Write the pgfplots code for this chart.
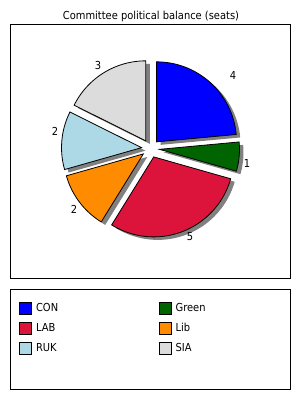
\documentclass[border=0pt]{standalone}
\usepackage{pgfplots}
\pgfplotsset{compat=1.18}
\usepackage{pgfplotstable}
\usepackage{fontspec}
\setmainfont{DejaVu Sans Condensed}
\definecolor{cCON}{HTML}{0000FF}
\definecolor{cGreen}{HTML}{006400}
\definecolor{cLAB}{HTML}{DC143C}
\definecolor{cLib}{HTML}{FF8C00}
\definecolor{cRUK}{HTML}{ADD8E6}
\definecolor{cSIA}{HTML}{DCDCDC}
\definecolor{shadowgray}{HTML}{808080}
\tikzset{lbl/.style={font=\fontsize{8.25}{10}\selectfont}}
\pgfplotstableread{
party seats lx ly
CON 4 233 325
Green 1 247 237
LAB 5 190 163
Lib 2 74 191
RUK 2 55 269
SIA 3 98 335
}\seattable
\def\cx{150.5}
\def\cy{251.5}
\def\rr{80}
\def\ex{9}
\begin{document}
\begin{tikzpicture}
\begin{axis}[
  width=225pt, height=300pt, scale only axis,
  xmin=0, xmax=300, ymin=0, ymax=400,
  axis lines=none, clip=false,
  legend columns=2,
  legend cell align=left,
  legend style={draw=none, fill=none, at={(axis cs:19,98.5)}, anchor=north west,
    inner sep=0pt, font=\fontsize{8.25}{10}\selectfont, row sep=5.5pt,
    /tikz/column 1/.style={column sep=2pt},
    /tikz/column 3/.style={column sep=2pt},
    /tikz/column 2/.style={column sep=74.5pt},
    nodes={inner sep=1pt, anchor=west}},
  legend image code/.code={\draw[#1, draw=black, line width=0.6pt] (0pt,-4.5pt) rectangle (9pt,4.5pt);},
]
\path (axis cs:0,0) rectangle (axis cs:300,400);
\def\total{0}
\pgfplotsforeachungrouped \i in {0,...,5}{%
  \pgfplotstablegetelem{\i}{seats}\of\seattable
  \pgfmathsetmacro\total{\total+\pgfplotsretval}%
}
% shadows
\def\cum{0}
\pgfplotsforeachungrouped \i in {0,...,5}{%
  \pgfplotstablegetelem{\i}{seats}\of\seattable \let\myv\pgfplotsretval
  \pgfmathsetmacro\aS{90-360*\cum/\total}%
  \pgfmathsetmacro\aE{90-360*(\cum+\myv)/\total}%
  \pgfmathsetmacro\aM{(\aS+\aE)/2}%
  \pgfmathsetmacro\ox{\cx+\ex*cos(\aM)+4}%
  \pgfmathsetmacro\oy{\cy+\ex*sin(\aM)-3}%
  \edef\doit{\noexpand\addplot[forget plot, fill=shadowgray, draw=none, domain=\aE:\aS, samples=60] ({\ox+\rr*cos(x)}, {\oy+\rr*sin(x)}) -- (axis cs:\ox,\oy) -- cycle;}%
  \doit
  \pgfmathsetmacro\cum{\cum+\myv}%
}
% slices
\def\cum{0}
\pgfplotsforeachungrouped \i in {0,...,5}{%
  \pgfplotstablegetelem{\i}{seats}\of\seattable \let\myv\pgfplotsretval
  \pgfplotstablegetelem{\i}{party}\of\seattable \let\myp\pgfplotsretval
  \pgfplotstablegetelem{\i}{lx}\of\seattable \let\mylx\pgfplotsretval
  \pgfplotstablegetelem{\i}{ly}\of\seattable \let\myly\pgfplotsretval
  \pgfmathsetmacro\aS{90-360*\cum/\total}%
  \pgfmathsetmacro\aE{90-360*(\cum+\myv)/\total}%
  \pgfmathsetmacro\aM{(\aS+\aE)/2}%
  \pgfmathsetmacro\ox{\cx+\ex*cos(\aM)}%
  \pgfmathsetmacro\oy{\cy+\ex*sin(\aM)}%
  \edef\doit{\noexpand\addplot[fill=c\myp, draw=black, line width=0.6pt, domain=\aE:\aS, samples=60] ({\ox+\rr*cos(x)}, {\oy+\rr*sin(x)}) -- (axis cs:\ox,\oy) -- cycle;
    \noexpand\addlegendentry{\myp}
    \noexpand\node[lbl] at (axis cs:\mylx,\myly) {\myv};}%
  \doit
  \pgfmathsetmacro\cum{\cum+\myv}%
}
\node[lbl] at (axis cs:151,384) {Committee political balance (seats)};
\draw[line width=0.75pt] (axis cs:10,121) rectangle (axis cs:290,375);
\draw[line width=0.75pt] (axis cs:10,10) rectangle (axis cs:290,110);
\end{axis}
\end{tikzpicture}
\end{document}
